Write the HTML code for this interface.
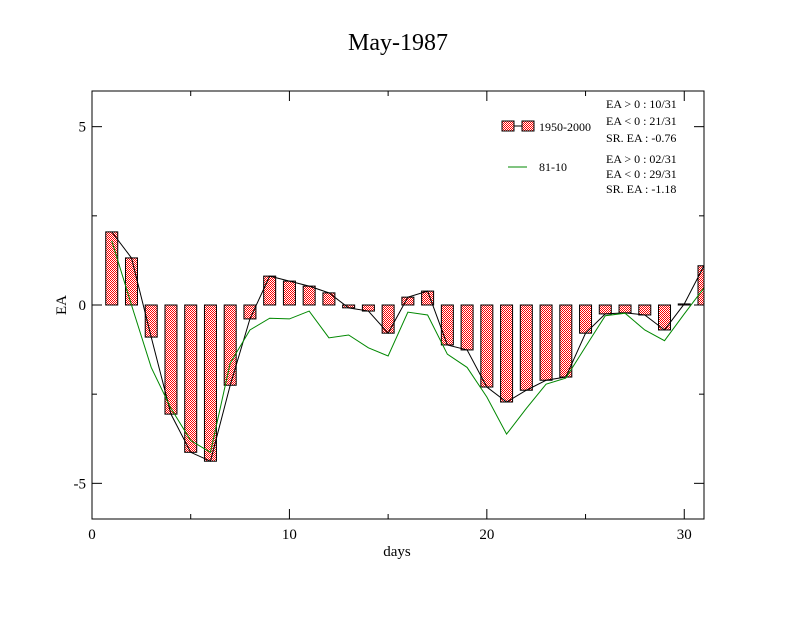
<!DOCTYPE html>
<html><head><meta charset="utf-8"><style>
body{margin:0;background:#fff}
text{font-family:"Liberation Serif",serif;fill:#000}
</style></head><body>
<svg id="chart" width="792" height="612" xmlns="http://www.w3.org/2000/svg">
<defs>
<pattern id="chk" width="2" height="2" patternUnits="userSpaceOnUse">
<rect width="2" height="2" fill="#fff"/><rect width="1" height="1" fill="#f00"/><rect x="1" y="1" width="1" height="1" fill="#f00"/>
</pattern>
</defs>
<text x="398" y="50" font-size="24" text-anchor="middle">May-1987</text>
<g id="plot"></g>
<text x="397" y="556" font-size="15" text-anchor="middle">days</text>
<text x="66" y="305" font-size="15" text-anchor="middle" transform="rotate(-90 66 305)">EA</text>
<g font-size="12">
<rect x="502" y="121" width="12" height="10" fill="url(#chk)" stroke="#000"/>
<line x1="514" y1="126" x2="522" y2="126" stroke="#000"/>
<rect x="522" y="121" width="12" height="10" fill="url(#chk)" stroke="#000"/>
<text x="539" y="131">1950-2000</text>
<line x1="508" y1="167" x2="527" y2="167" stroke="#080"/>
<text x="539" y="171">81-10</text>
<text x="606" y="108">EA &gt; 0 : 10/31</text>
<text x="606" y="125">EA &lt; 0 : 21/31</text>
<text x="606" y="142">SR. EA : -0.76</text>
<text x="606" y="163">EA &gt; 0 : 02/31</text>
<text x="606" y="178">EA &lt; 0 : 29/31</text>
<text x="606" y="193">SR. EA : -1.18</text>
</g>
</svg>
<script>
const days=[1,2,3,4,5,6,7,8,9,10,11,12,13,14,15,16,17,18,19,20,21,22,23,24,25,26,27,28,29,30,31];
const ea5000=[2.05,1.32,-0.9,-3.06,-4.13,-4.38,-2.25,-0.39,0.81,0.67,0.53,0.34,-0.08,-0.17,-0.79,0.22,0.39,-1.12,-1.26,-2.3,-2.72,-2.39,-2.11,-2.02,-0.79,-0.25,-0.22,-0.28,-0.7,0.03,1.1];
const ea8110=[1.8,0.0,-1.75,-2.9,-3.8,-4.13,-1.63,-0.7,-0.37,-0.39,-0.17,-0.92,-0.84,-1.2,-1.43,-0.2,-0.28,-1.38,-1.75,-2.58,-3.62,-2.9,-2.22,-2.05,-1.17,-0.3,-0.23,-0.7,-1.0,-0.25,0.48];
const xTicks=[0,10,20,30];
const yTicks=[-5,0,5];
const X0=92,X1=704,Y0=91,Y1=519;
const xs=v=>X0+(v-0)/31*(X1-X0);
const ys=v=>Y1-(v+6)/12*(Y1-Y0);
const NS="http://www.w3.org/2000/svg";
const g=document.getElementById('plot');
function mk(t,a){const e=document.createElementNS(NS,t);for(const k in a)e.setAttribute(k,a[k]);g.appendChild(e);return e;}
const clip=document.createElementNS(NS,'clipPath');clip.setAttribute('id','cp');
const cr=document.createElementNS(NS,'rect');cr.setAttribute('x',X0);cr.setAttribute('y',Y0);cr.setAttribute('width',X1-X0);cr.setAttribute('height',Y1-Y0);clip.appendChild(cr);g.appendChild(clip);
const bg=document.createElementNS(NS,'g');bg.setAttribute('clip-path','url(#cp)');g.appendChild(bg);
days.forEach((d,i)=>{
 const v=ea5000[i];const y=Math.min(ys(v),ys(0));const h=Math.abs(ys(v)-ys(0));
 const r=document.createElementNS(NS,'rect');
 r.setAttribute('x',xs(d)-6);r.setAttribute('y',y);r.setAttribute('width',12);r.setAttribute('height',h);
 r.setAttribute('fill','url(#chk)');r.setAttribute('stroke','#000');r.setAttribute('stroke-width','1');
 
 
 bg.appendChild(r);
});
const l1=document.createElementNS(NS,'polyline');
l1.setAttribute('points',days.map((d,i)=>xs(d)+','+ys(ea5000[i])).join(' '));
l1.setAttribute('fill','none');l1.setAttribute('stroke','#000');


bg.appendChild(l1);
const l2=document.createElementNS(NS,'polyline');
l2.setAttribute('points',days.map((d,i)=>xs(d)+','+ys(ea8110[i])).join(' '));
l2.setAttribute('fill','none');l2.setAttribute('stroke','#080');


bg.appendChild(l2);
const fr=mk('rect',{x:X0,y:Y0,width:X1-X0,height:Y1-Y0,fill:'none',stroke:'#000','stroke-width':1});


for(let v=0;v<=31;v+=5){const big=v%10==0,L=big?10:5;
 mk('line',{x1:xs(v),y1:Y1,x2:xs(v),y2:Y1-L,stroke:'#000'});
 mk('line',{x1:xs(v),y1:Y0,x2:xs(v),y2:Y0+L,stroke:'#000'});}
for(let v=-5;v<=5;v+=2.5){const big=v%5==0,L=big?10:5;
 mk('line',{x1:X0,y1:ys(v),x2:X0+L,y2:ys(v),stroke:'#000'});
 mk('line',{x1:X1,y1:ys(v),x2:X1-L,y2:ys(v),stroke:'#000'});}
xTicks.forEach(v=>{const t=mk('text',{x:xs(v),y:539,'font-size':15,'text-anchor':'middle'});t.textContent=v;

});
yTicks.forEach(v=>{const t=mk('text',{x:86,y:ys(v)+5,'font-size':15,'text-anchor':'end'});t.textContent=v;

});
</script>
</body></html>
